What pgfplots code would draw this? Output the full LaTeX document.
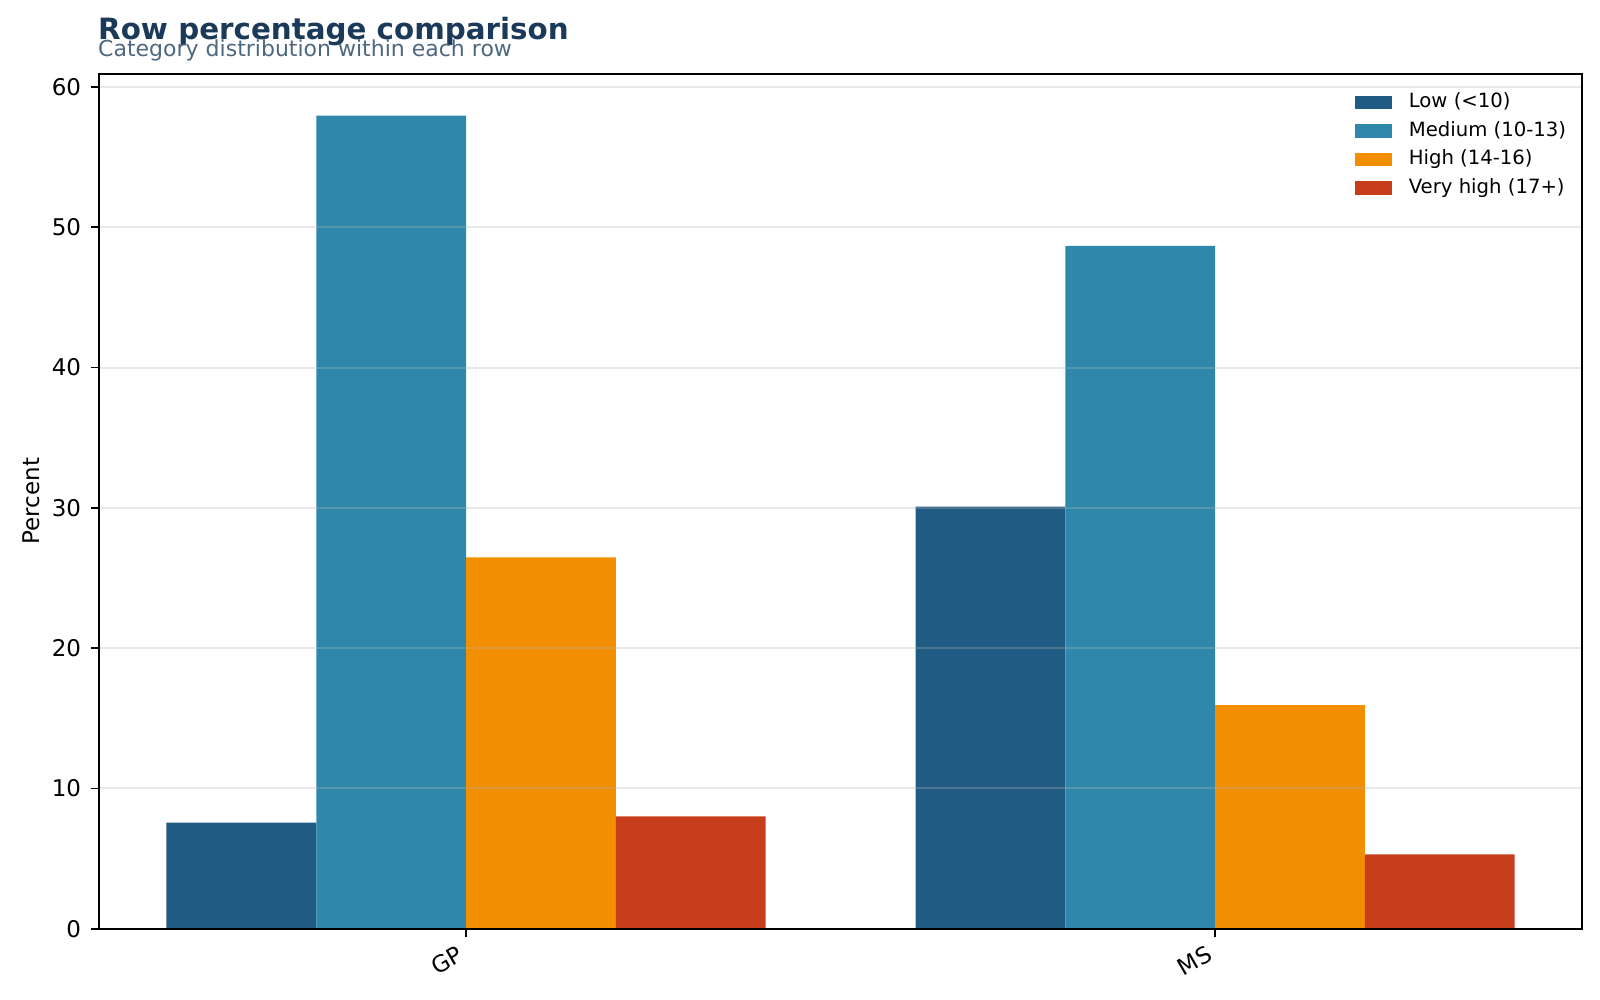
\documentclass[border=0pt]{standalone}
\usepackage{pgfplots}
\pgfplotsset{compat=1.18}
\usepackage{fontspec}
\setmainfont{DejaVu Sans}
\definecolor{cLow}{HTML}{1F5B83}
\definecolor{cMed}{HTML}{2E88AC}
\definecolor{cHigh}{HTML}{F18F01}
\definecolor{cVH}{HTML}{C73E1D}
\definecolor{cTitle}{HTML}{1B3A5A}
\definecolor{cSub}{HTML}{4D6880}
\begin{document}
\begin{tikzpicture}
\useasboundingbox (0,0) rectangle (578.16pt,361.35pt);
\node[anchor=base west, inner sep=0pt, text=cTitle, font=\fontsize{10.6}{12}\selectfont\bfseries] at (35.3pt,346.9pt) {Row percentage comparison};
\node[anchor=base west, inner sep=0pt, text=cSub, font=\fontsize{7.95}{9}\selectfont] at (35.3pt,340.8pt) {Category distribution within each row};
\begin{axis}[
  at={(35.8pt,25.75pt)}, anchor=south west,
  width=535.9pt, height=309pt, scale only axis,
  ybar=0pt, bar width=0.2,
  xmin=-0.49, xmax=1.49, ymin=0, ymax=60.95,
  xtick={0,1}, xticklabels={GP,MS},
  ytick={0,10,20,30,40,50,60},
  tick align=outside, major tick length=3pt,
  xtick pos=bottom, ytick pos=left,
  axis line style={line width=0.7pt},
  every tick/.style={black, line width=0.6pt},
  ymajorgrids, axis on top,
  grid style={line width=0.7pt, color=black!30, opacity=0.3},
  tick label style={font=\fontsize{8.3}{10}\selectfont},
  /pgf/number format/assume math mode=true,
  x tick label style={xshift=-2.3pt, yshift=2pt, rotate=30, anchor=north east},
  ylabel={Percent},
  ylabel style={at={(axis description cs:-0.046,0.5)}, anchor=center, font=\fontsize{8.3}{10}\selectfont},
  legend style={draw=none, fill=none, at={(axis description cs:0.9914,0.9815)}, anchor=north east,
    font=\fontsize{7.1}{8}\selectfont, row sep=1.3pt, inner sep=0pt,
    nodes={inner sep=1pt, text height=5.5pt, text depth=1.5pt},
    /tikz/every odd column/.style={column sep=5pt}},
  legend cell align=left,
  legend image code/.code={\fill[#1] (0pt,-2.4pt) rectangle (13.5pt,2.4pt);},
]
\addplot[fill=cLow, draw=none] coordinates {(0,7.56) (1,30.09)};
\addplot[fill=cMed, draw=none] coordinates {(0,57.96) (1,48.68)};
\addplot[fill=cHigh, draw=none] coordinates {(0,26.47) (1,15.93)};
\addplot[fill=cVH, draw=none] coordinates {(0,8.01) (1,5.30)};
\legend{Low (<10), Medium (10-13), High (14-16), Very high (17+)}
\end{axis}
\end{tikzpicture}
\end{document}
